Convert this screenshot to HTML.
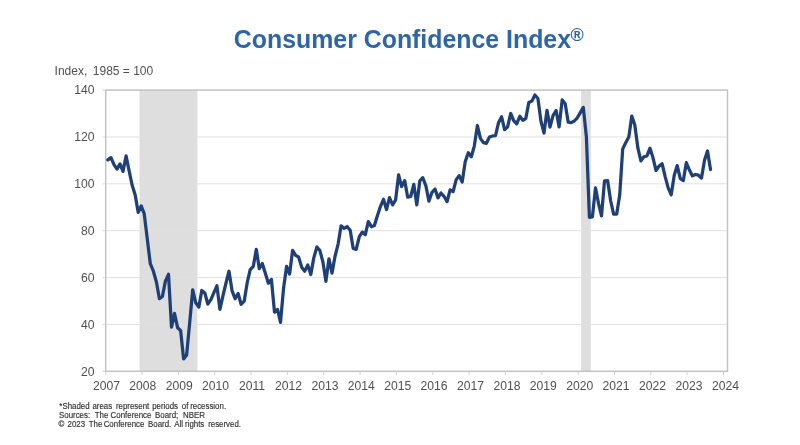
<!DOCTYPE html>
<html><head><meta charset="utf-8"><title>Consumer Confidence Index</title>
<style>
html,body{margin:0;padding:0;background:#fff;}
body{width:800px;height:445px;overflow:hidden;font-family:"Liberation Sans",Arial,sans-serif;}
svg{display:block;filter:blur(0.45px)}
svg text{font-family:"Liberation Sans",Arial,sans-serif;}
.ax text{font-size:12.15px;fill:#505050;}
</style></head><body>
<svg width="800" height="445" viewBox="0 0 800 445">
<rect width="800" height="445" fill="#fff"/>
<text x="233.8" y="47.5" font-size="24.88" font-weight="bold" fill="#2d65a7">Consumer Confidence Index<tspan font-size="18" dx="-0.6" dy="-6.7">®</tspan></text>
<text x="54.6" y="74.6" font-size="12" fill="#505050">Index,</text>
<text x="92.8" y="74.6" font-size="12" fill="#505050">1985 = 100</text>
<rect x="139.5" y="90.1" width="57.8" height="281.2" fill="#dedede"/>
<rect x="581.1" y="90.1" width="9.7" height="281.2" fill="#dedede"/>
<line x1="102.3" x2="727.5" y1="324.43" y2="324.43" stroke="#e0e0e0" stroke-width="1"/>
<line x1="102.3" x2="727.5" y1="277.57" y2="277.57" stroke="#e0e0e0" stroke-width="1"/>
<line x1="102.3" x2="727.5" y1="230.70" y2="230.70" stroke="#e0e0e0" stroke-width="1"/>
<line x1="102.3" x2="727.5" y1="183.83" y2="183.83" stroke="#e0e0e0" stroke-width="1"/>
<line x1="102.3" x2="727.5" y1="136.97" y2="136.97" stroke="#e0e0e0" stroke-width="1"/>

<rect x="105.7" y="90.1" width="621.8" height="281.2" fill="none" stroke="#c2c2c2" stroke-width="1.5"/>
<line x1="105.7" x2="105.7" y1="371.3" y2="375" stroke="#d0d0d0" stroke-width="1"/>
<line x1="142.0" x2="142.0" y1="371.3" y2="375" stroke="#d0d0d0" stroke-width="1"/>
<line x1="178.4" x2="178.4" y1="371.3" y2="375" stroke="#d0d0d0" stroke-width="1"/>
<line x1="214.7" x2="214.7" y1="371.3" y2="375" stroke="#d0d0d0" stroke-width="1"/>
<line x1="251.1" x2="251.1" y1="371.3" y2="375" stroke="#d0d0d0" stroke-width="1"/>
<line x1="287.4" x2="287.4" y1="371.3" y2="375" stroke="#d0d0d0" stroke-width="1"/>
<line x1="323.7" x2="323.7" y1="371.3" y2="375" stroke="#d0d0d0" stroke-width="1"/>
<line x1="360.1" x2="360.1" y1="371.3" y2="375" stroke="#d0d0d0" stroke-width="1"/>
<line x1="396.4" x2="396.4" y1="371.3" y2="375" stroke="#d0d0d0" stroke-width="1"/>
<line x1="432.8" x2="432.8" y1="371.3" y2="375" stroke="#d0d0d0" stroke-width="1"/>
<line x1="469.1" x2="469.1" y1="371.3" y2="375" stroke="#d0d0d0" stroke-width="1"/>
<line x1="505.4" x2="505.4" y1="371.3" y2="375" stroke="#d0d0d0" stroke-width="1"/>
<line x1="541.8" x2="541.8" y1="371.3" y2="375" stroke="#d0d0d0" stroke-width="1"/>
<line x1="578.1" x2="578.1" y1="371.3" y2="375" stroke="#d0d0d0" stroke-width="1"/>
<line x1="614.5" x2="614.5" y1="371.3" y2="375" stroke="#d0d0d0" stroke-width="1"/>
<line x1="650.8" x2="650.8" y1="371.3" y2="375" stroke="#d0d0d0" stroke-width="1"/>
<line x1="687.1" x2="687.1" y1="371.3" y2="375" stroke="#d0d0d0" stroke-width="1"/>
<line x1="723.5" x2="723.5" y1="371.3" y2="375" stroke="#d0d0d0" stroke-width="1"/>

<line x1="102.3" x2="105.7" y1="90.1" y2="90.1" stroke="#d0d0d0"/><line x1="102.3" x2="105.7" y1="371.3" y2="371.3" stroke="#d0d0d0"/>
<g class="ax">
<text x="94.6" y="375.5" text-anchor="end">20</text>
<text x="94.6" y="328.6" text-anchor="end">40</text>
<text x="94.6" y="281.8" text-anchor="end">60</text>
<text x="94.6" y="234.9" text-anchor="end">80</text>
<text x="94.6" y="188.0" text-anchor="end">100</text>
<text x="94.6" y="141.2" text-anchor="end">120</text>
<text x="94.6" y="94.3" text-anchor="end">140</text>

<text x="106.4" y="390.4" text-anchor="middle">2007</text>
<text x="142.8" y="390.4" text-anchor="middle">2008</text>
<text x="179.2" y="390.4" text-anchor="middle">2009</text>
<text x="215.6" y="390.4" text-anchor="middle">2010</text>
<text x="252.0" y="390.4" text-anchor="middle">2011</text>
<text x="288.4" y="390.4" text-anchor="middle">2012</text>
<text x="324.9" y="390.4" text-anchor="middle">2013</text>
<text x="361.3" y="390.4" text-anchor="middle">2014</text>
<text x="397.7" y="390.4" text-anchor="middle">2015</text>
<text x="434.1" y="390.4" text-anchor="middle">2016</text>
<text x="470.5" y="390.4" text-anchor="middle">2017</text>
<text x="506.9" y="390.4" text-anchor="middle">2018</text>
<text x="543.3" y="390.4" text-anchor="middle">2019</text>
<text x="579.7" y="390.4" text-anchor="middle">2020</text>
<text x="616.1" y="390.4" text-anchor="middle">2021</text>
<text x="652.5" y="390.4" text-anchor="middle">2022</text>
<text x="689.0" y="390.4" text-anchor="middle">2023</text>
<text x="725.4" y="390.4" text-anchor="middle">2024</text>

</g>
<path d="M107.9,159.9 L110.9,157.6 L114.0,164.6 L117.0,169.1 L120.0,163.9 L123.0,171.4 L126.1,155.9 L129.1,170.7 L132.1,185.0 L135.2,195.1 L138.2,212.4 L141.2,205.9 L144.2,213.6 L147.3,239.1 L150.3,263.7 L153.3,271.0 L156.4,282.0 L159.4,298.7 L162.4,296.5 L165.4,281.1 L168.5,274.3 L171.5,327.2 L174.5,313.4 L177.6,327.7 L180.6,330.5 L183.6,358.9 L186.6,355.1 L189.7,322.6 L192.7,289.8 L195.7,302.6 L198.8,307.1 L201.8,290.5 L204.8,293.0 L207.8,304.0 L210.9,299.6 L213.9,292.6 L216.9,285.8 L219.9,309.4 L223.0,295.6 L226.0,283.0 L229.0,271.2 L232.1,290.9 L235.1,298.7 L238.1,293.5 L241.1,304.3 L244.2,301.2 L247.2,282.7 L250.2,269.6 L253.3,266.3 L256.3,249.4 L259.3,268.7 L262.3,263.5 L265.4,273.6 L268.4,283.2 L271.4,279.4 L274.5,312.2 L277.5,309.4 L280.5,322.3 L283.5,288.8 L286.6,266.3 L289.6,274.1 L292.6,250.4 L295.7,255.3 L298.7,257.2 L301.7,267.3 L304.7,271.2 L307.8,264.9 L310.8,274.5 L313.8,257.9 L316.9,246.9 L319.9,250.6 L322.9,261.9 L325.9,281.3 L329.0,258.8 L332.0,273.1 L335.0,256.5 L338.1,244.1 L341.1,225.8 L344.1,228.4 L347.1,226.5 L350.2,230.2 L353.2,248.5 L356.2,249.4 L359.3,236.6 L362.3,232.1 L365.3,234.7 L368.3,221.6 L371.4,226.7 L374.4,225.5 L377.4,215.7 L380.4,206.6 L383.5,199.3 L386.5,209.6 L389.5,197.7 L392.6,204.9 L395.6,200.0 L398.6,174.9 L401.6,186.6 L404.7,180.6 L407.7,197.2 L410.7,196.5 L413.8,184.3 L416.8,204.9 L419.8,180.8 L422.8,177.7 L425.9,185.9 L428.9,201.2 L431.9,192.5 L435.0,189.0 L438.0,197.9 L441.0,193.0 L444.0,196.3 L447.1,201.6 L450.1,189.9 L453.1,191.6 L456.2,179.6 L459.2,175.6 L462.2,182.0 L465.2,161.8 L468.3,152.7 L471.3,156.7 L474.3,146.1 L477.4,125.5 L480.4,138.4 L483.4,142.6 L486.4,143.3 L489.5,137.0 L492.5,136.0 L495.5,135.6 L498.6,122.4 L501.6,116.8 L504.6,129.7 L507.6,126.9 L510.7,113.5 L513.7,120.6 L516.7,123.8 L519.8,116.3 L522.8,120.3 L525.8,118.5 L528.8,102.5 L531.9,101.1 L534.9,95.0 L537.9,98.5 L541.0,121.5 L544.0,133.0 L547.0,110.3 L550.0,127.1 L553.1,115.4 L556.1,110.5 L559.1,126.9 L562.2,99.9 L565.2,103.7 L568.2,122.2 L571.2,122.7 L574.3,121.0 L577.3,117.8 L580.3,112.6 L583.3,107.4 L586.4,137.0 L589.4,217.3 L592.4,216.9 L595.5,187.8 L598.5,203.3 L601.5,215.9 L604.5,180.8 L607.6,180.6 L610.6,200.5 L613.6,214.1 L616.7,214.1 L619.7,195.1 L622.7,148.9 L625.7,142.8 L628.8,137.0 L631.8,116.1 L634.8,125.0 L637.9,148.2 L640.9,160.9 L643.9,156.7 L646.9,155.9 L650.0,148.2 L653.0,157.8 L656.0,170.5 L659.1,166.0 L662.1,163.7 L665.1,176.3 L668.1,187.6 L671.2,194.8 L674.2,175.4 L677.2,165.6 L680.3,178.7 L683.3,180.6 L686.3,162.7 L689.3,169.8 L692.4,175.9 L695.4,174.5 L698.4,175.2 L701.5,178.0 L704.5,160.2 L707.5,151.0 L710.5,169.5" fill="none" stroke="#1f3f77" stroke-width="3.25" stroke-linejoin="round" stroke-linecap="round"/>
<g font-size="8.45" fill="#303030" stroke="#303030" stroke-width="0.15" transform="scale(0.935,1)">
<text y="408.6"><tspan x="63.5">*Shaded</tspan> <tspan x="98.9">areas</tspan> <tspan x="124.0">represent</tspan> <tspan x="162.8">periods</tspan> <tspan x="194.5">of</tspan> <tspan x="203.4">recession.</tspan></text>
<text y="417.7"><tspan x="63.1">Sources:</tspan> <tspan x="101.3">The</tspan> <tspan x="118.3">Conference</tspan> <tspan x="165.8">Board;</tspan> <tspan x="195.8">NBER</tspan></text>
<text y="426.7"><tspan x="62.6">©</tspan> <tspan x="72.2">2023</tspan> <tspan x="94.9">The</tspan> <tspan x="110.9">Conference</tspan> <tspan x="158.4">Board.</tspan> <tspan x="186.5">All</tspan> <tspan x="197.9">rights</tspan> <tspan x="222.6">reserved.</tspan></text>
</g>
</svg>
</body></html>
